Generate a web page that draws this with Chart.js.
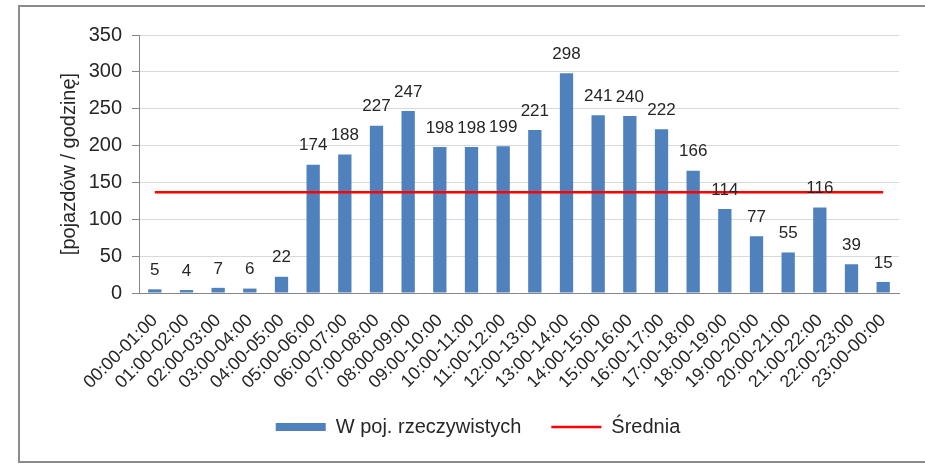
<!DOCTYPE html>
<html>
<head>
<meta charset="utf-8">
<script src="https://cdn.jsdelivr.net/npm/chart.js@4/dist/chart.umd.min.js"></script>
<style>
  body { margin: 0; background: #fff; }
  canvas { display: block; }
</style>
</head>
<body>
<canvas id="myChart" width="925" height="464"></canvas>
<script>
let hours = [ "00:00-01:00", "01:00-02:00", "02:00-03:00", "03:00-04:00", "04:00-05:00", "05:00-06:00",
  "06:00-07:00", "07:00-08:00", "08:00-09:00", "09:00-10:00", "10:00-11:00", "11:00-12:00",
  "12:00-13:00", "13:00-14:00", "14:00-15:00", "15:00-16:00", "16:00-17:00", "17:00-18:00",
  "18:00-19:00", "19:00-20:00", "20:00-21:00", "21:00-22:00", "22:00-23:00", "23:00-00:00" ];
let vehicles = [ 5, 4, 7, 6, 22, 174, 188, 227, 247, 198, 198, 199, 221, 298, 241, 240, 222, 166, 114, 77, 55, 116, 39, 15 ];
let average = vehicles.reduce((a, b) => a + b, 0) / vehicles.length;
let averageLine = hours.map(() => average);

let fontFamily = "'Liberation Sans', Arial, sans-serif";
let textColor = '#262626';

// numbers above the bars
let barLabels = {
  id: 'barLabels',
  afterDatasetsDraw(chart) {
    let ctx = chart.ctx;
    let meta = chart.getDatasetMeta(1);
    ctx.save();
    ctx.font = '17px ' + fontFamily;
    ctx.fillStyle = textColor;
    ctx.textAlign = 'center';
    ctx.textBaseline = 'middle';
    meta.data.forEach((bar, i) => {
      ctx.fillText(vehicles[i], bar.x, bar.y - 19);
    });
    ctx.restore();
  }
};

// grey frame round the chart
let frame = {
  id: 'frame',
  beforeDraw(chart) {
    let ctx = chart.ctx;
    ctx.save();
    ctx.strokeStyle = '#8c8c8c';
    ctx.lineWidth = 2;
    ctx.strokeRect(19, 6, 1000, 456);
    ctx.restore();
  }
};

let myChart = document.getElementById('myChart').getContext('2d');

let trafficChart = new Chart(myChart, {
  type: 'bar',
  data: {
    labels: hours,
    datasets: [
      {
        type: 'line',
        label: 'Średnia',
        data: averageLine,
        borderColor: '#ff0000',
        backgroundColor: '#ff0000',
        borderWidth: 2.5,
        pointRadius: 0,
        pointStyle: 'line',
        order: 0
      },
      {
        label: 'W poj. rzeczywistych',
        data: vehicles,
        backgroundColor: '#4f81bd',
        barPercentage: 0.42,
        categoryPercentage: 1,
        pointStyle: 'rect',
        order: 1
      }
    ]
  },
  options: {
    responsive: false,
    animation: false,
    layout: { padding: { left: 57, right: 26, top: 35, bottom: 17 } },
    plugins: {
      tooltip: { enabled: false },
      legend: {
        position: 'bottom',
        reverse: true,
        labels: {
          usePointStyle: true,
          pointStyleWidth: 50,
          boxHeight: 8,
          padding: 30,
          color: textColor,
          font: { size: 20, family: fontFamily }
        }
      }
    },
    scales: {
      x: {
        grid: { display: false },
        border: { color: '#868686', width: 1 },
        ticks: {
          minRotation: 45,
          maxRotation: 45,
          autoSkip: false,
          padding: 9,
          color: textColor,
          font: { size: 18, family: fontFamily }
        },
        afterFit(scale) { scale.height = 94; }
      },
      y: {
        min: 0,
        max: 350,
        ticks: {
          stepSize: 50,
          padding: 10,
          color: textColor,
          font: { size: 20, family: fontFamily }
        },
        grid: { color: '#d9d9d9', tickLength: 7, tickColor: '#868686' },
        border: { color: '#868686', width: 1 },
        title: {
          display: true,
          text: '[pojazdów / godzinę]',
          color: textColor,
          padding: 0,
          font: { size: 20, family: fontFamily }
        },
        afterFit(scale) { scale.width = 82; }
      }
    }
  },
  plugins: [frame, barLabels]
});
</script>
</body>
</html>
